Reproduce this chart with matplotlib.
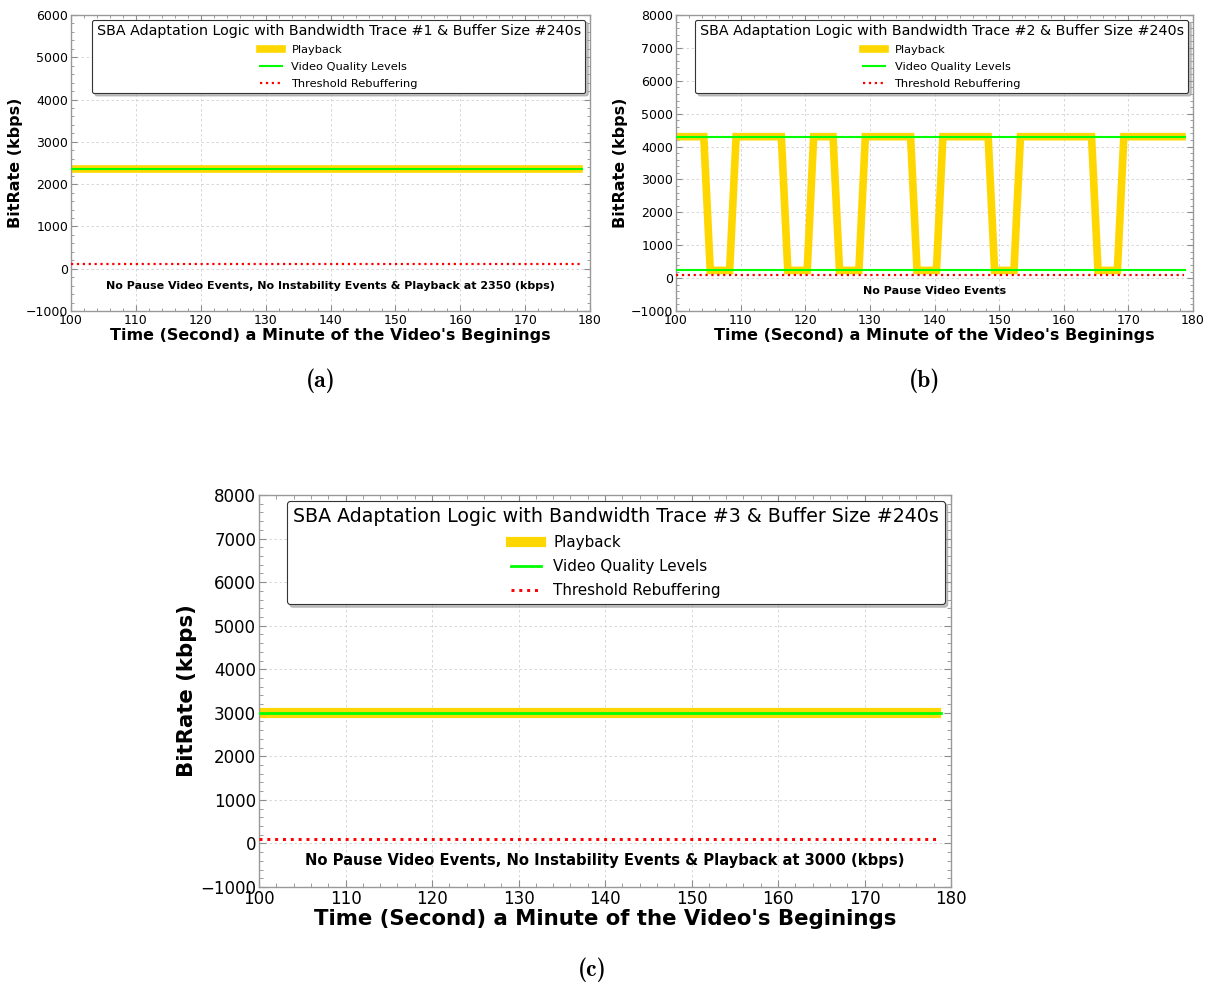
import numpy as np
import matplotlib
matplotlib.use('Agg')
import matplotlib.pyplot as plt
from matplotlib.ticker import AutoMinorLocator

# sample times of the playback log (one per second)
times = [100.3 + k for k in range(79)]

# trace 1 : constant playback
playback_a = 2350
levels_a = [2350]

# trace 2 : switching between two quality levels (run lengths in samples)
levels_b = [235, 4300]
runs_b_level = [4300, 235, 4300, 235, 4300, 235, 4300, 235, 4300, 235, 4300, 235, 4300]
runs_b_len = [5, 4, 8, 4, 4, 4, 8, 4, 8, 4, 12, 4, 10]

# trace 3 : constant playback
playback_c = 3000
levels_c = [3000]

threshold = 100

titles = ['SBA Adaptation Logic with Bandwidth Trace #1 & Buffer Size #240s',
          'SBA Adaptation Logic with Bandwidth Trace #2 & Buffer Size #240s',
          'SBA Adaptation Logic with Bandwidth Trace #3 & Buffer Size #240s']
notes = ['No Pause Video Events, No Instability Events & Playback at 2350 (kbps)',
         'No Pause Video Events',
         'No Pause Video Events, No Instability Events & Playback at 3000 (kbps)']
captions = ['(a)', '(b)', '(c)']

playback_b = []
for lev, n in zip(runs_b_level, runs_b_len):
    playback_b += [lev] * n

series = [[playback_a] * len(times), playback_b, [playback_c] * len(times)]
levels = [levels_a, levels_b, levels_c]
ylims = [(-1000, 6000), (-1000, 8000), (-1000, 8000)]

fig = plt.figure(figsize=(12.2, 9.88), dpi=100)
rects = [[71/1220, 1-311/988, 519/1220, 296/988],
         [676/1220, 1-311/988, 517/1220, 296/988],
         [259/1220, 1-887/988, 692/1220, 392/988]]
scales = [1.0, 1.0, 1.33]
cap_pos = [(321/1220, 1-381/988), (925/1220, 1-381/988), (592/1220, 1-970/988)]

for i in range(3):
    s = scales[i]
    ax = fig.add_axes(rects[i])
    ax.plot(times, series[i], color='#FFD700', lw=5.5*s, label='Playback',
            solid_joinstyle='miter', zorder=2)
    for j, lev in enumerate(levels[i]):
        ax.plot([times[0] - 0.3, times[-1] + 0.5], [lev, lev], color='#00FF00',
                lw=1.5*s, label='Video Quality Levels' if j == 0 else None, zorder=3)
    ax.plot([times[0] - 0.3, times[-1] + 0.3], [threshold, threshold], color='red',
            ls=':', lw=1.6*s, label='Threshold Rebuffering', zorder=3)

    ax.set_xlim(100, 180)
    ax.set_ylim(*ylims[i])
    ax.set_xticks(range(100, 181, 10))
    ax.yaxis.set_major_locator(plt.MultipleLocator(1000))
    ax.xaxis.set_minor_locator(AutoMinorLocator(5))
    ax.yaxis.set_minor_locator(AutoMinorLocator(5))
    ax.tick_params(which='both', direction='in', top=True, right=True,
                   colors='0.55', labelcolor='black', labelsize=9*s, pad=2)
    ax.tick_params(which='major', length=4*s)
    ax.tick_params(which='minor', length=2*s)
    ax.grid(True, color='0.82', ls=(0, (3, 3)), lw=0.6)
    ax.set_axisbelow(True)
    for sp in ax.spines.values():
        sp.set_color('0.6')
        sp.set_linewidth(1.0)

    ax.set_xlabel("Time (Second) a Minute of the Video's Beginings",
                  fontsize=11.5*s, fontweight='bold', labelpad=1)
    ax.set_ylabel('BitRate (kbps)', fontsize=11.5*s, fontweight='bold', labelpad=2)
    ax.text(140, -400, notes[i], ha='center', va='center', fontsize=8*s,
            fontweight='bold')

    leg = ax.legend(loc='upper right', title=titles[i], fontsize=8.2*s,
                    title_fontsize=10.3*s, frameon=True, fancybox=True,
                    borderaxespad=0.4, borderpad=0.4, labelspacing=0.6,
                    shadow={'color': '0.6', 'alpha': 0.6})
    leg.get_frame().set_edgecolor('0.2')
    leg.get_frame().set_linewidth(0.8)

    fig.text(cap_pos[i][0], cap_pos[i][1], captions[i], ha='center', va='center',
             fontsize=17, family='cmb10')

fig.savefig('out.png', dpi=100)
